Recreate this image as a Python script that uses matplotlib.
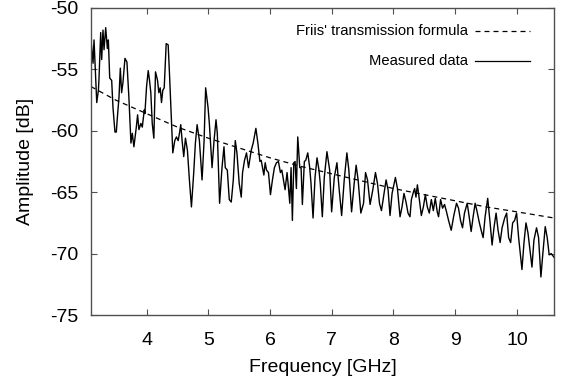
import numpy as np
import matplotlib
matplotlib.use("Agg")
import matplotlib.pyplot as plt
from matplotlib.lines import Line2D

plt.rcParams['font.family'] = ['Liberation Sans', 'DejaVu Sans']

meas_f = [3.100, 3.133, 3.149, 3.193, 3.220, 3.230, 3.257, 3.273, 3.294, 3.311,
          3.338, 3.365, 3.381, 3.403, 3.435, 3.456, 3.488, 3.510, 3.532, 3.553,
          3.575, 3.596, 3.617, 3.650, 3.682, 3.714, 3.747, 3.769, 3.795, 3.834,
          3.855, 3.876, 3.908, 3.931, 3.963, 3.973, 4.000, 4.027, 4.048, 4.069,
          4.092, 4.118, 4.145, 4.178, 4.199, 4.221, 4.242, 4.263, 4.286, 4.318,
          4.350, 4.371, 4.404, 4.425, 4.457, 4.484, 4.512, 4.533, 4.554, 4.576,
          4.602, 4.630, 4.662, 4.694, 4.727, 4.764, 4.791, 4.819, 4.856, 4.899,
          4.932, 4.957, 4.996, 5.017, 5.061, 5.093, 5.125, 5.146, 5.183, 5.222,
          5.254, 5.275, 5.308, 5.340, 5.372, 5.405, 5.437, 5.464, 5.501, 5.534,
          5.555, 5.587, 5.619, 5.652, 5.695, 5.727, 5.771, 5.803, 5.836, 5.857,
          5.878, 5.900, 5.922, 5.943, 5.975, 6.007, 6.039, 6.071, 6.104, 6.136,
          6.168, 6.191, 6.223, 6.244, 6.276, 6.298, 6.320, 6.341, 6.362, 6.385,
          6.406, 6.427, 6.449, 6.482, 6.503, 6.524, 6.556, 6.579, 6.611, 6.643,
          6.664, 6.697, 6.729, 6.761, 6.793, 6.814, 6.847, 6.879, 6.922, 6.966,
          6.998, 7.041, 7.084, 7.117, 7.160, 7.202, 7.245, 7.277, 7.321, 7.363,
          7.395, 7.427, 7.471, 7.515, 7.547, 7.579, 7.621, 7.665, 7.708, 7.741,
          7.773, 7.805, 7.838, 7.880, 7.912, 7.944, 7.977, 8.031, 8.064, 8.106,
          8.138, 8.170, 8.203, 8.235, 8.267, 8.290, 8.322, 8.343, 8.364, 8.387,
          8.419, 8.451, 8.484, 8.516, 8.548, 8.580, 8.613, 8.645, 8.677, 8.709,
          8.730, 8.763, 8.795, 8.827, 8.859, 8.892, 8.935, 8.977, 9.021, 9.053,
          9.086, 9.118, 9.150, 9.194, 9.226, 9.258, 9.290, 9.323, 9.355, 9.387,
          9.420, 9.452, 9.484, 9.526, 9.565, 9.597, 9.630, 9.662, 9.694, 9.727,
          9.759, 9.801, 9.833, 9.865, 9.898, 9.930, 9.962, 9.994, 10.027, 10.081,
          10.114, 10.146, 10.178, 10.211, 10.243, 10.275, 10.317, 10.350, 10.388, 10.414,
          10.458, 10.490, 10.522, 10.555, 10.600]
meas_db = [-52.6, -54.5, -52.6, -57.7, -56.7, -55.7, -52.0, -54.2, -51.8, -53.4,
           -51.6, -53.3, -52.6, -55.7, -55.9, -58.1, -60.1, -60.1, -58.6, -57.3,
           -54.9, -56.9, -56.1, -54.1, -54.4, -57.3, -61.0, -60.2, -61.3, -59.7,
           -58.7, -59.9, -59.4, -59.7, -58.3, -58.6, -56.4, -55.1, -55.9, -56.9,
           -59.4, -60.6, -55.2, -55.9, -56.9, -56.5, -57.7, -56.7, -56.5, -52.9,
           -53.0, -55.3, -59.4, -61.8, -60.8, -60.5, -60.8, -60.2, -59.5, -60.8,
           -62.1, -60.6, -61.6, -64.0, -66.2, -63.4, -61.0, -59.5, -60.8, -64.0,
           -60.8, -56.5, -58.1, -59.4, -63.0, -60.8, -59.1, -60.2, -65.9, -63.0,
           -61.3, -63.0, -63.2, -65.6, -65.8, -64.0, -60.8, -61.8, -64.3, -65.4,
           -63.4, -62.4, -61.8, -63.0, -61.6, -61.0, -59.8, -61.0, -62.5, -62.4,
           -63.0, -63.6, -62.6, -63.2, -63.4, -65.2, -64.0, -63.0, -62.6, -62.5,
           -63.4, -63.2, -64.2, -64.8, -63.4, -64.6, -65.9, -63.0, -67.3, -62.6,
           -62.5, -64.7, -60.5, -63.0, -63.0, -66.0, -62.5, -62.4, -61.8, -63.0,
           -64.3, -67.1, -63.8, -62.2, -63.2, -64.3, -67.0, -63.8, -61.7, -63.2,
           -66.6, -63.8, -62.6, -64.6, -66.9, -64.0, -61.8, -63.2, -66.6, -64.3,
           -62.8, -64.0, -66.7, -65.9, -63.4, -64.0, -66.0, -64.8, -63.4, -64.3,
           -65.9, -66.5, -65.4, -64.0, -64.8, -66.9, -65.1, -63.8, -64.7, -67.0,
           -66.2, -65.1, -65.8, -66.7, -67.0, -65.6, -65.0, -64.7, -65.4, -64.4,
           -65.6, -66.9, -66.2, -65.2, -66.2, -66.7, -65.6, -66.5, -65.5, -66.6,
           -67.0, -65.6, -66.3, -66.0, -66.6, -67.3, -68.1, -66.9, -65.9, -66.3,
           -67.3, -67.9, -66.7, -65.9, -67.0, -68.2, -67.0, -65.9, -66.6, -67.4,
           -68.1, -68.7, -67.0, -65.5, -67.5, -69.3, -67.8, -66.7, -68.1, -69.1,
           -67.9, -67.1, -66.7, -68.7, -69.1, -67.5, -67.3, -66.7, -68.7, -71.3,
           -69.1, -67.5, -68.3, -69.7, -71.1, -68.9, -67.9, -68.7, -71.9, -70.3,
           -67.8, -68.7, -70.1, -70.0, -70.3]

# Friis' transmission formula curve (GHz, dB)
friis_f = [3.1, 3.5, 4.0, 4.5, 5.0, 5.5, 6.0, 6.5, 7.0, 7.5, 8.0, 8.5, 9.0, 9.5, 10.0, 10.6]
friis_db = [-56.4, -57.5, -58.6, -59.7, -60.6, -61.4, -62.2, -62.9, -63.5, -64.1,
            -64.7, -65.2, -65.7, -66.2, -66.6, -67.1]

x_ticks = [4, 5, 6, 7, 8, 9, 10]
y_ticks = [-50, -55, -60, -65, -70, -75]

W, H = 564, 382
fig = plt.figure(figsize=(W / 100, H / 100), dpi=100)
ax = fig.add_axes([91 / W, (H - 315) / H, (554 - 91) / W, (315 - 8) / H])

ax.plot(friis_f, friis_db, color='black', lw=0.9, dashes=(4, 3.2))
ax.plot(meas_f, meas_db, color='black', lw=1.0)

ax.set_xlim(3.1, 10.6)
ax.set_ylim(-75, -50)
ax.set_xticks(x_ticks)
ax.set_yticks(y_ticks)
ax.set_xticklabels([str(t) for t in x_ticks])
ax.set_yticklabels([str(t) for t in y_ticks])

frame_col = '#505050'
for s in ax.spines.values():
    s.set_color(frame_col)
    s.set_linewidth(1.0)
ax.tick_params(axis='both', direction='in', top=True, right=True, length=4.5,
               width=0.8, color=frame_col, labelsize=14, labelcolor='black')
ax.tick_params(axis='x', pad=12.5)
ax.tick_params(axis='y', pad=9)

ax.set_xlabel('Frequency [GHz]', fontsize=14, labelpad=7)
ax.set_ylabel('Amplitude [dB]', fontsize=14, labelpad=12)

# gnuplot-style key: right-aligned text followed by line sample
tx = 0.814
ax.text(tx, 0.925, "Friis' transmission formula", transform=ax.transAxes,
        ha='right', va='center', fontsize=10.6)
ax.text(tx, 0.827, "Measured data", transform=ax.transAxes,
        ha='right', va='center', fontsize=10.6)
ax.add_line(Line2D([0.829, 0.948], [0.925, 0.925], transform=ax.transAxes,
                   color='black', lw=0.9, dashes=(4, 3.2)))
ax.add_line(Line2D([0.829, 0.948], [0.827, 0.827], transform=ax.transAxes,
                   color='black', lw=0.9))

fig.savefig('out.png', dpi=100)
